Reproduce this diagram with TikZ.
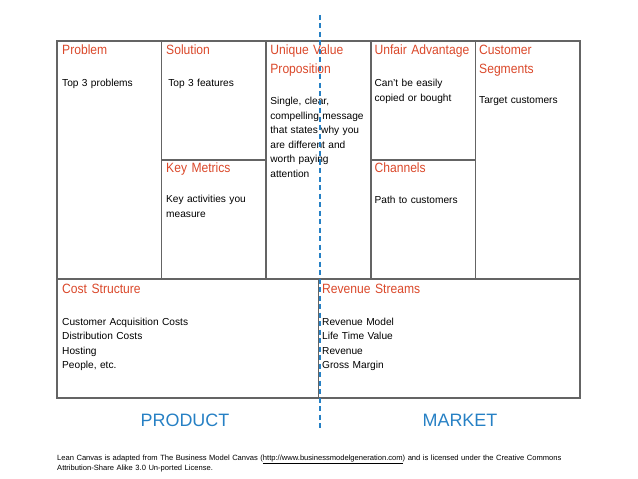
\documentclass[tikz,border=0pt]{standalone}
\usepackage{fontspec}
\setmainfont{Liberation Sans}
\newfontfamily\headfont[FakeStretch=0.9]{Liberation Sans}
\usepackage{tikz}
\usetikzlibrary{calc,positioning}
\definecolor{headred}{RGB}{218,72,42}
\definecolor{canvasblue}{RGB}{38,128,196}
\definecolor{gridgray}{RGB}{100,100,100}
\begin{document}
\begin{tikzpicture}[x=1bp,y=-1bp,
cell/.style={rectangle,draw=gridgray,line width=1.5bp,inner sep=0pt,outer sep=0pt,anchor=north west,minimum width=104.6bp},
tall/.style={cell,minimum height=238bp},
half/.style={cell,minimum height=119bp},
head/.style={anchor=base west,inner sep=0pt,text=headred,align=left,text width=100bp,font=\headfont\fontsize{13.5}{19}\selectfont},
body/.style={anchor=base west,inner sep=0pt,align=left,text width=100bp,font=\fontsize{10.2}{14.5}\selectfont},
side/.style={anchor=base,inner sep=0pt,text=canvasblue,font=\fontsize{18}{20}\selectfont}]
 \useasboundingbox (0,0) rectangle (638,479);
 % canvas cells
 \node[tall] (problem) at (57,41) {};
 \node[half] (solution) at (161.6,41) {};
 \node[half] (metrics) at (161.6,160) {};
 \node[tall] (uvp) at (266.2,41) {};
 \node[half] (advantage) at (370.8,41) {};
 \node[half] (channels) at (370.8,160) {};
 \node[tall] (segments) at (475.4,41) {};
 \node[cell,minimum width=261.5bp,minimum height=119bp] (cost) at (57,279) {};
 \node[cell,minimum width=261.5bp,minimum height=119bp] (revenue) at (318.5,279) {};
 % headings and contents
 \node[head] (problemT) at ($(problem.north west)+(5,14)$) {Problem};
 \node[body] (problemB) at ($(problem.north west)+(5,46)$) {Top 3 problems};
 \node[head] (solutionT) at ($(solution.north west)+(4.4,14)$) {Solution};
 \node[body] (solutionB) at ($(solution.north west)+(6.6,46)$) {Top 3 features};
 \node[head] (metricsT) at ($(metrics.north west)+(4.4,13)$) {Key Metrics};
 \node[body] (metricsB) at ($(metrics.north west)+(4.4,43)$) {Key activities you\\measure};
 \node[head] (uvpT) at ($(uvp.north west)+(4,14)$) {Unique Value\\Proposition};
 \node[body] (uvpB) at ($(uvp.north west)+(4,64)$) {Single, clear,\\compelling message\\that states why you\\are different and\\worth paying\\attention};
 \node[head] (advantageT) at ($(advantage.north west)+(3.6,14)$) {Unfair Advantage};
 \node[body] (advantageB) at ($(advantage.north west)+(3.6,46)$) {Can't be easily\\copied or bought};
 \node[head] (channelsT) at ($(channels.north west)+(3.6,13)$) {Channels};
 \node[body] (channelsB) at ($(channels.north west)+(3.6,44)$) {Path to customers};
 \node[head] (segmentsT) at ($(segments.north west)+(3.6,14)$) {Customer\\Segments};
 \node[body] (segmentsB) at ($(segments.north west)+(3.6,63)$) {Target customers};
 \node[head,text width=250bp] (costT) at ($(cost.north west)+(5,14)$) {Cost Structure};
 \node[body,text width=250bp] (costB) at ($(cost.north west)+(5,46.5)$) {Customer Acquisition Costs\\Distribution Costs\\Hosting\\People, etc.};
 \node[head,text width=250bp] (revenueT) at ($(revenue.north west)+(3.5,14)$) {Revenue Streams};
 \node[body,text width=250bp] (revenueB) at ($(revenue.north west)+(3.5,46.5)$) {Revenue Model\\Life Time Value\\Revenue\\Gross Margin};
 % product / market split
 \coordinate (splitTop) at (320,15);
 \coordinate (splitBottom) at (320,431);
 \draw[canvasblue,line width=2.5bp,dash pattern=on 5bp off 3.5bp] (splitTop) -- (splitBottom);
 \node[side] (product) at (185,426) {PRODUCT};
 \node[side] (market) at (460,426) {MARKET};
 \node[anchor=base west,inner sep=0pt,align=left,text width=570bp,font=\fontsize{7.6}{8.6}\selectfont] (credit) at (57,460)
  {Lean Canvas is adapted from The Business Model Canvas (\underline{http://www.businessmodelgeneration.com}) and is licensed under the Creative Commons\\Attribution-Share Alike 3.0 Un-ported License.};
\end{tikzpicture}
\end{document}
